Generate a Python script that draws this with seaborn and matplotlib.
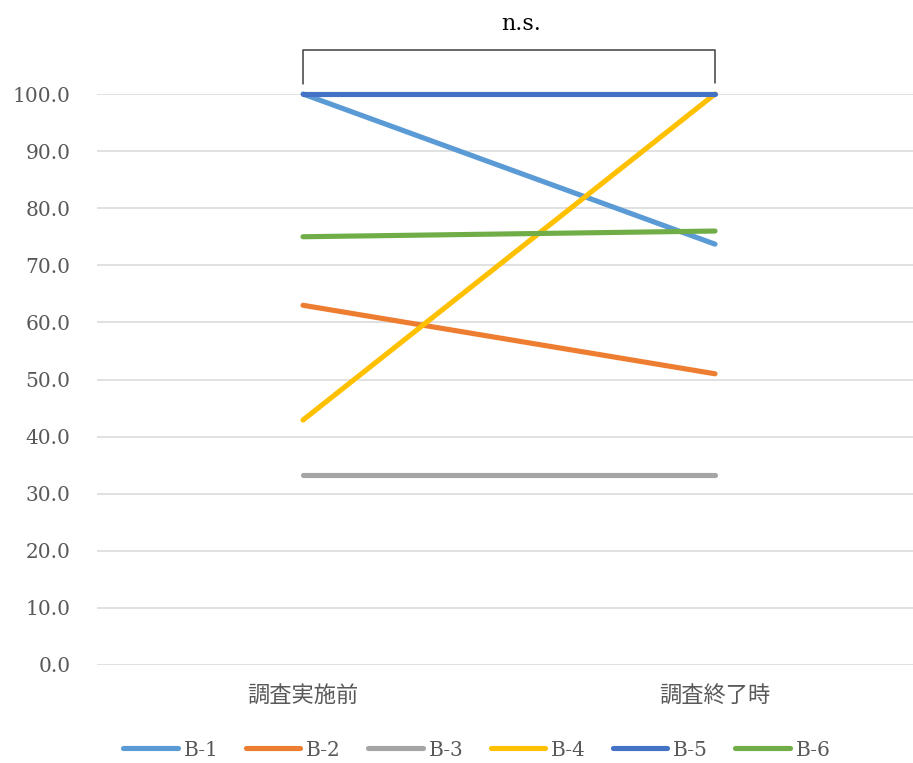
import matplotlib
matplotlib.use("Agg")
import matplotlib.pyplot as plt
import seaborn as sns
import pandas as pd

# Survey scores per participant, before and at the end of the survey
phases = ["調査実施前", "調査終了時"]
series_names = ["B-1", "B-2", "B-3", "B-4", "B-5", "B-6"]
b1 = [100.0, 73.7]
b2 = [63.0, 51.0]
b3 = [33.3, 33.3]
b4 = [42.9, 100.0]
b5 = [100.0, 100.0]
b6 = [75.0, 76.0]
y_ticks = [0, 10, 20, 30, 40, 50, 60, 70, 80, 90, 100]
bracket_label = "n.s."

colors = ["#5B9BD5", "#ED7D31", "#A5A5A5", "#FFC000", "#4472C4", "#70AD47"]

rows = []
for name, vals in zip(series_names, [b1, b2, b3, b4, b5, b6]):
    for ph, v in zip(phases, vals):
        rows.append({"時点": ph, "得点": v, "系列": name})
df = pd.DataFrame(rows)

sns.set_theme(style="white")
plt.rcParams["font.family"] = ["DejaVu Serif", "Noto Sans CJK JP"]

fig = plt.figure(figsize=(9.13, 7.63), dpi=100)
ax = fig.add_axes([97 / 913, 1 - 665 / 763, 824 / 913, (665 - 94) / 763])

sns.lineplot(data=df, x="時点", y="得点", hue="系列", palette=colors,
             linewidth=3.7, ax=ax, legend=True, sort=False)
for ln in ax.get_lines():
    ln.set_solid_capstyle("round")
    ln.set_clip_on(False)

ax.set_xlim(-0.5, 1.5)
ax.set_ylim(0, 100)
ax.set_yticks(y_ticks)
ax.set_yticklabels([f"{t:.1f}" for t in y_ticks])
ax.yaxis.grid(True, color="#D9D9D9", linewidth=1.1)
ax.set_axisbelow(True)
for s in ax.spines.values():
    s.set_visible(False)
ax.tick_params(axis="y", length=0, pad=19, labelsize=14.5, labelcolor="#595959")
ax.tick_params(axis="x", length=0, pad=14, labelsize=16, labelcolor="#595959")
ax.set_xlabel("")
ax.set_ylabel("")

# Significance bracket spanning both phases
ax.plot([0, 0, 1, 1], [101.8, 107.7, 107.7, 102.0], color="#404040",
        linewidth=1.1, clip_on=False)
ax.text(0.53, 112.3, bracket_label, ha="center", va="center", fontsize=16,
        color="#000000")

handles, labels = ax.get_legend_handles_labels()
ax.get_legend().remove()
for h in handles:
    h.set_solid_capstyle("round")
fig.legend(handles, labels, loc="center", bbox_to_anchor=(477 / 913, 1 - 750 / 763),
           ncol=6, frameon=False, fontsize=14.5, handlelength=2.7,
           handletextpad=0.3, columnspacing=1.35, labelcolor="#595959")

fig.savefig("out.png", dpi=100)
